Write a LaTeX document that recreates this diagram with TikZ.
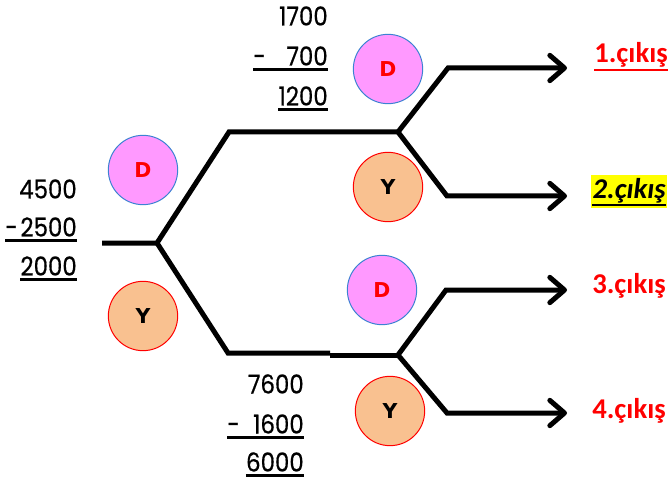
\documentclass[tikz,border=0pt]{standalone}
\usepackage{fontspec}
\usetikzlibrary{arrows.meta}
\newfontfamily\numfont[FakeStretch=0.88,FakeBold=0.6]{Poppins}
\newfontfamily\exitfont{Carlito}
\newfontfamily\letterfont{DejaVu Sans}
\definecolor{pinkD}{RGB}{255,153,255}
\definecolor{blueD}{RGB}{60,130,210}
\definecolor{peachY}{RGB}{249,193,144}
\definecolor{exitred}{RGB}{255,0,0}
\definecolor{marker}{RGB}{255,255,0}

\tikzset{
  branch/.style={line width=3.75pt},
  exit/.style={branch,-{Straight Barb[round,length=11pt,width=19pt]}},
  dcircle/.style={circle,draw=blueD,fill=pinkD,line width=0.75pt,minimum size=52pt,inner sep=0pt,
    font=\letterfont\bfseries\fontsize{15.4}{16}\selectfont,text=exitred},
  ycircle/.style={dcircle,draw=exitred,fill=peachY,text=black},
  num/.style={font=\numfont\fontsize{19.5}{20}\selectfont,inner sep=0pt,anchor=base east},
  minus/.style={num,anchor=base west},
  uline/.style={line width=2.25pt},
  exitlbl/.style={font=\exitfont\bfseries\fontsize{21.5}{22}\selectfont,inner sep=0pt,anchor=base west,text=exitred}
}

\begin{document}
\begin{tikzpicture}[x=0.75pt,y=-0.75pt]
\useasboundingbox (0,0) rectangle (670,488);

%% branching lines
\coordinate (in) at (102,243);
\coordinate (j0) at (157,243);
\coordinate (up) at (229,132);
\coordinate (j1) at (398,132);
\coordinate (lo) at (228,353);
\coordinate (lomid) at (330,353);
\coordinate (lomid2) at (330,355);
\coordinate (j2) at (398,355);
\coordinate (a1) at (448,68);
\coordinate (a2) at (447,196);
\coordinate (a3) at (446,290);
\coordinate (a4) at (447,413);
\coordinate (e1) at (567,68);
\coordinate (e2) at (567,196);
\coordinate (e3) at (567,290);
\coordinate (e4) at (567,413);
\draw [branch] (in) -- (j0) -- (up) -- (j1);
\draw [branch] (j0) -- (lo) -- (lomid);
\draw [branch] (lomid2) -- (j2);
% exits
\draw [exit] (j1) -- (a1) -- (e1);
\draw [exit] (j1) -- (a2) -- (e2);
\draw [exit] (j2) -- (a3) -- (e3);
\draw [exit] (j2) -- (a4) -- (e4);

%% circles
\node [dcircle] (d0) at (143,170) {D};
\node [ycircle] (y0) at (143,316) {Y};
\node [dcircle] (d1) at (388,69) {D};
\node [ycircle] (y1) at (388,187) {Y};
\node [dcircle] (d2) at (382,290) {D};
\node [ycircle] (y2) at (390,411) {Y};

%% subtractions
% left
\node [num] (n0a) at (77,198.5) {4500};
\node [num] (n0b) at (77,236.5) {2500};
\node [minus] (m0) at (5,236.5) {-};
\node [num] (n0c) at (77,275.5) {2000};
\draw [uline] ([yshift=-3pt]m0.base west) -- ([yshift=-3pt]n0b.base east);
\draw [uline] ([yshift=-3pt]n0c.base west) -- ([yshift=-3pt]n0c.base east);
% top
\node [num] (n1a) at (328,25.5) {1700};
\node [num] (n1b) at (328,65.5) {700};
\node [minus] (m1) at (253,65.5) {-};
\node [num] (n1c) at (328,105.5) {1200};
\draw [uline] ([yshift=-3pt]m1.base west) -- ([yshift=-3pt]n1b.base east);
\draw [uline] ([yshift=-3pt]n1c.base west) -- ([yshift=-3pt]n1c.base east);
% bottom
\node [num] (n2a) at (304,393.5) {7600};
\node [num] (n2b) at (304,433.5) {1600};
\node [minus] (m2) at (227,433.5) {-};
\node [num] (n2c) at (304,471.5) {6000};
\draw [uline] ([yshift=-3pt]m2.base west) -- ([yshift=-3pt]n2b.base east);
\draw [uline] ([yshift=-3pt]n2c.base west) -- ([yshift=-3pt]n2c.base east);

%% exit labels
\node [exitlbl] (x1) at (594,63) {1.çıkış};
\draw [exitred,line width=1.5pt] ([yshift=-5pt]x1.base west) -- ([yshift=-5pt]x1.base east);
\node [exitlbl,text=black,fill=marker,inner xsep=1pt,inner ysep=3pt,font=\exitfont\bfseries\itshape\fontsize{21.5}{22}\selectfont] (x2) at (591,199) {2.çıkış};
\draw [line width=1.5pt] ([yshift=-4.5pt,xshift=1pt]x2.base west) -- ([yshift=-4.5pt,xshift=-1pt]x2.base east);
\node [exitlbl] (x3) at (592,293) {3.çıkış};
\node [exitlbl] (x4) at (592,418) {4.çıkış};

\end{tikzpicture}
\end{document}
